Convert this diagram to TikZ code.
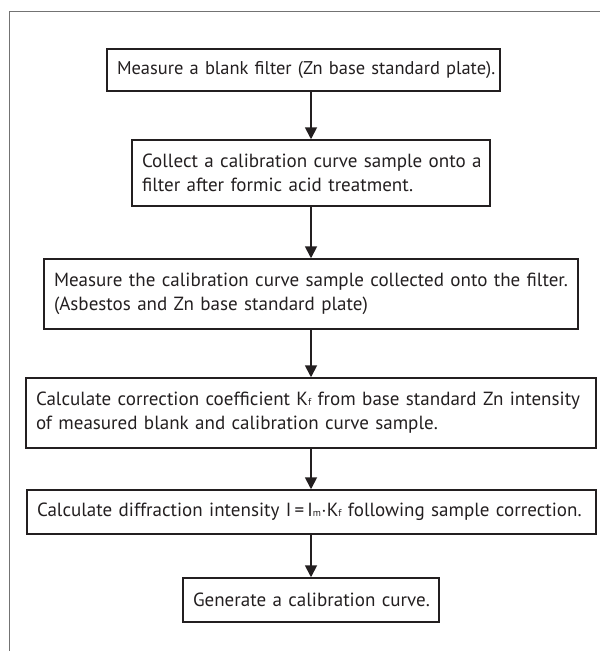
\documentclass[tikz,border=0pt]{standalone}
\usepackage{fontspec}
\setmainfont{PT Sans}
\usetikzlibrary{arrows.meta}
\definecolor{ink}{HTML}{231F20}
\definecolor{framegray}{HTML}{737373}
\newcommand{\smallsub}[1]{{\fontsize{10}{10}\selectfont #1}}
\newlength\calibwidth
\begin{document}
\settowidth\calibwidth{\fontsize{17}{24}\selectfont Calculate diffraction intensity I\,=\,I\smallsub{m}$\cdot$K\smallsub{f} following sample correction.}%
\pgfmathsetmacro\flowfs{17*538/\calibwidth}%
\pgfmathsetmacro\flowfstop{0.97*\flowfs}%
\begin{tikzpicture}[x=1pt, y=-1pt,
  flowbox/.style={draw=ink, line width=1.5pt, text=ink, align=left,
    inner xsep=10pt, inner ysep=0pt, font=\fontsize{\flowfs}{24}\selectfont},
  flowarrow/.style={draw=ink, line width=1.8pt, -{Triangle[length=12pt,width=12pt]}}
]
\useasboundingbox (0,0) rectangle (600,651);
\draw[framegray, line width=1pt] (9,651) -- (9,11) -- (600,11);

\node[flowbox, text width=373pt, minimum height=42pt, font=\fontsize{\flowfstop}{24}\selectfont] (b1) at (303.5,70)
  {\mbox{Measure a blank filter (Zn base standard plate).}};
\node[flowbox, text width=338pt, minimum height=66pt] (b2) at (311,173)
  {\mbox{Collect a calibration curve sample onto a}\\\mbox{filter after formic acid treatment.}};
\node[flowbox, text width=514pt, minimum height=70pt] (b3) at (311,294)
  {\mbox{Measure the calibration curve sample collected onto the filter.}\\\mbox{(Asbestos and Zn base standard plate)}};
\node[flowbox, text width=550pt, minimum height=70pt] (b4) at (311,413)
  {\mbox{Calculate correction coefficient K\smallsub{f} from base standard Zn intensity}\\\mbox{of measured blank and calibration curve sample.}};
\node[flowbox, text width=549pt, minimum height=44pt] (b5) at (311.5,512)
  {\mbox{Calculate diffraction intensity I\,=\,I\smallsub{m}$\cdot$K\smallsub{f} following sample correction.}};
\node[flowbox, text width=236pt, minimum height=44pt] (b6) at (311,600)
  {\mbox{Generate a calibration curve.}};

\draw[flowarrow] (b2.north |- b1.south) -- (b2.north);
\draw[flowarrow] (b2.south) -- (b3.north);
\draw[flowarrow] (b3.south) -- (b4.north);
\draw[flowarrow] (b4.south) -- (b5.north -| b4.south);
\draw[flowarrow] (b5.south -| b6.north) -- (b6.north);
\end{tikzpicture}
\end{document}
